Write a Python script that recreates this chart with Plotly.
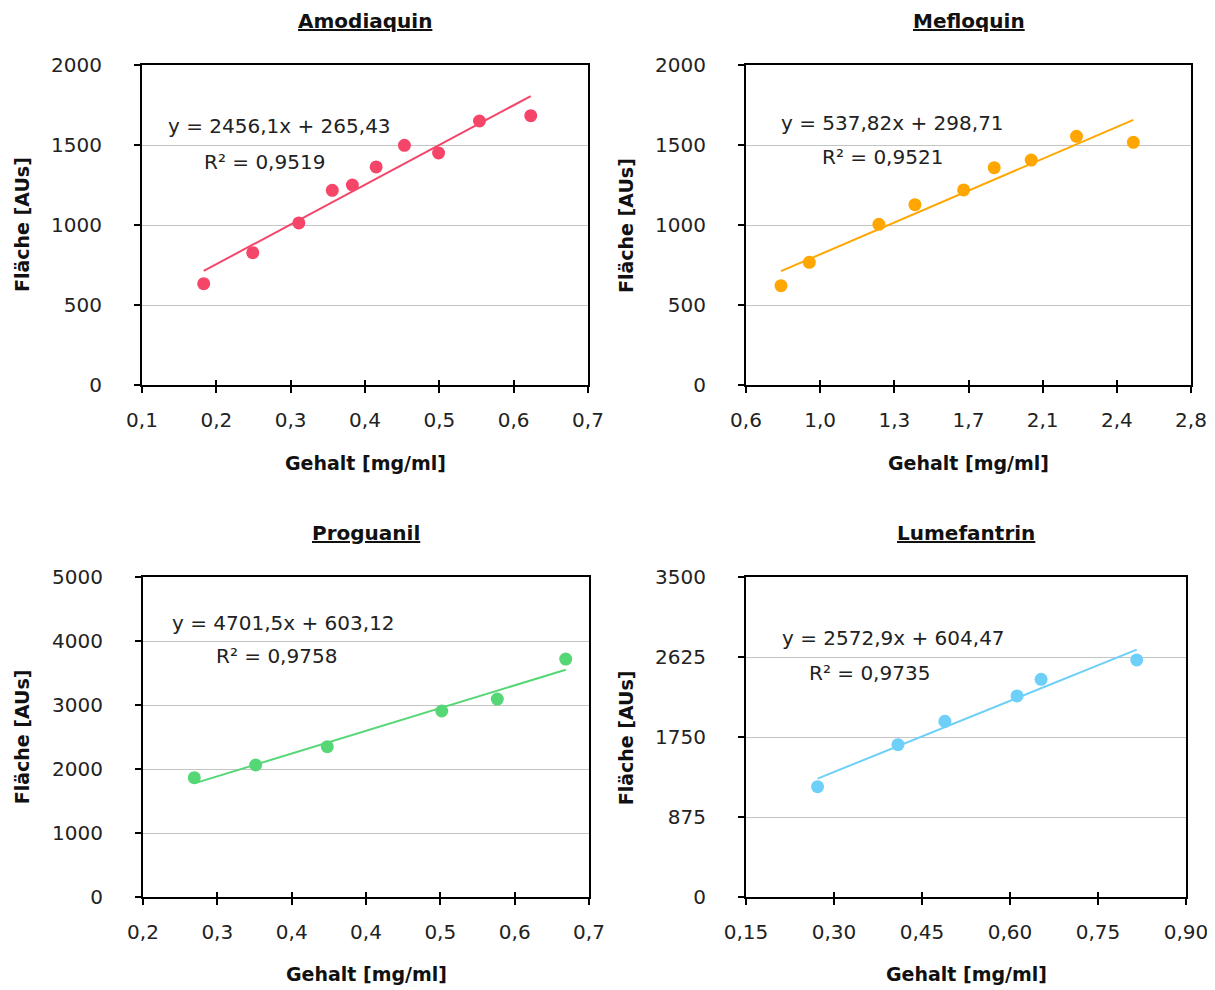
import numpy as np
import plotly.graph_objects as go

# page body has an 8px margin; figure fills the rest of the 1215x990 window
OFF = 8
W, H = 1215 - OFF, 990 - OFF

# ---------------- data ----------------
amo_x = [0.183, 0.249, 0.311, 0.356, 0.383, 0.415, 0.453, 0.499, 0.554, 0.623]
amo_y = [633, 827, 1013, 1217, 1250, 1363, 1498, 1450, 1650, 1683]
amo_eq = ["y = 2456,1x + 265,43", "R² = 0,9519"]

mef_x = [0.773, 0.913, 1.257, 1.435, 1.676, 1.827, 2.010, 2.234, 2.515]
mef_y = [621, 767, 1004, 1127, 1219, 1358, 1406, 1554, 1517]
mef_eq = ["y = 537,82x + 298,71", "R² = 0,9521"]

pro_x = [0.2575, 0.3263, 0.4066, 0.5349, 0.5972, 0.6739]
pro_y = [1869, 2067, 2353, 2911, 3098, 3723]
pro_eq = ["y = 4701,5x + 603,12", "R² = 0,9758"]

lum_x = [0.272, 0.409, 0.489, 0.612, 0.653, 0.816]
lum_y = [1210, 1669, 1925, 2202, 2384, 2596]
lum_eq = ["y = 2572,9x + 604,47", "R² = 0,9735"]

titles = ["Amodiaquin", "Mefloquin", "Proguanil", "Lumefantrin"]
x_title = "Gehalt [mg/ml]"
y_title = "Fläche [AUs]"

amo_xticks = [0.1, 0.2, 0.3, 0.4, 0.5, 0.6, 0.7]
amo_xlabels = ["0,1", "0,2", "0,3", "0,4", "0,5", "0,6", "0,7"]
mef_xticks = [0.6, 0.9667, 1.3333, 1.7, 2.0667, 2.4333, 2.8]
mef_xlabels = ["0,6", "1,0", "1,3", "1,7", "2,1", "2,4", "2,8"]
pro_xticks = [0.2, 0.2833, 0.3667, 0.45, 0.5333, 0.6167, 0.7]
pro_xlabels = ["0,2", "0,3", "0,4", "0,4", "0,5", "0,6", "0,7"]
lum_xticks = [0.15, 0.30, 0.45, 0.60, 0.75, 0.90]
lum_xlabels = ["0,15", "0,30", "0,45", "0,60", "0,75", "0,90"]

top_yticks = [0, 500, 1000, 1500, 2000]
top_ylabels = ["0", "500", "1000", "1500", "2000"]
pro_yticks = [0, 1000, 2000, 3000, 4000, 5000]
pro_ylabels = ["0", "1000", "2000", "3000", "4000", "5000"]
lum_yticks = [0, 875, 1750, 2625, 3500]
lum_ylabels = ["0", "875", "1750", "2625", "3500"]

colors = ["#F5466A", "#FFA600", "#55D776", "#6ECFF8"]

# ---------------- layout geometry (window pixels) ----------------
panels = [
    dict(x=amo_x, y=amo_y, eq=amo_eq, xr=[0.1, 0.7], yr=[0, 2000],
         xt=amo_xticks, xl=amo_xlabels, yt=top_yticks, yl=top_ylabels,
         px=(142, 588), py=(65, 385),
         eqpos=[(0.1323, 1619), (0.1809, 1394)]),
    dict(x=mef_x, y=mef_y, eq=mef_eq, xr=[0.6, 2.8], yr=[0, 2000],
         xt=mef_xticks, xl=mef_xlabels, yt=top_yticks, yl=top_ylabels,
         px=(746, 1191), py=(65, 385),
         eqpos=[(0.763, 1636), (0.966, 1427)]),
    dict(x=pro_x, y=pro_y, eq=pro_eq, xr=[0.2, 0.7], yr=[0, 5000],
         xt=pro_xticks, xl=pro_xlabels, yt=pro_yticks, yl=pro_ylabels,
         px=(143, 589), py=(577.3, 897.3),
         eqpos=[(0.230, 4281), (0.280, 3770)]),
    dict(x=lum_x, y=lum_y, eq=lum_eq, xr=[0.15, 0.9], yr=[0, 3500],
         xt=lum_xticks, xl=lum_xlabels, yt=lum_yticks, yl=lum_ylabels,
         px=(746, 1186), py=(577.3, 897.3),
         eqpos=[(0.208, 2839), (0.254, 2450)]),
]


def fx(px):
    return (px - OFF) / W


def fy(py):
    return 1 - (py - OFF) / H


FONT = "DejaVu Sans, Liberation Sans, Arial, sans-serif"
TXT = "#222222"
fig = go.Figure()
layout = dict(
    width=W, height=H, margin=dict(l=0, r=0, t=0, b=0, autoexpand=False),
    plot_bgcolor="white", paper_bgcolor="white", showlegend=False,
    font=dict(family=FONT, size=20, color=TXT),
)
annotations = []

for i, p in enumerate(panels):
    n = i + 1
    xa = "x" if n == 1 else f"x{n}"
    ya = "y" if n == 1 else f"y{n}"
    xdom = [fx(p["px"][0]), fx(p["px"][1])]
    ydom = [fy(p["py"][1]), fy(p["py"][0])]
    c = colors[i]
    # linear least-squares trendline over the data range
    m, b = np.polyfit(p["x"], p["y"], 1)
    lx = np.array([min(p["x"]), max(p["x"])])
    ly = m * lx + b
    fig.add_trace(go.Scatter(x=lx, y=ly, mode="lines", line=dict(color=c, width=2),
                             xaxis=xa, yaxis=ya, hoverinfo="skip"))
    fig.add_trace(go.Scatter(x=p["x"], y=p["y"], mode="markers",
                             marker=dict(color=c, size=13, line=dict(width=0)),
                             xaxis=xa, yaxis=ya))
    xkey = "xaxis" if n == 1 else f"xaxis{n}"
    ykey = "yaxis" if n == 1 else f"yaxis{n}"
    layout[xkey] = dict(domain=xdom, anchor=ya, range=p["xr"], tickvals=p["xt"], ticktext=p["xl"],
                        showgrid=False, zeroline=False, showline=True, linecolor="black", linewidth=2,
                        mirror=True, ticks="outside", ticklen=6, tickwidth=1.5, tickcolor="black",
                        ticklabelstandoff=10, tickfont=dict(size=20, color=TXT),
                        fixedrange=True, automargin=False)
    layout[ykey] = dict(domain=ydom, anchor=xa, range=p["yr"], tickvals=p["yt"], ticktext=p["yl"],
                        showgrid=True, gridcolor="#C4C4C4", gridwidth=1, zeroline=False,
                        showline=True, linecolor="black", linewidth=2, mirror=True,
                        ticks="outside", ticklen=6, tickwidth=1.5, tickcolor="black",
                        ticklabelstandoff=28, tickfont=dict(size=20, color=TXT),
                        fixedrange=True, automargin=False)
    # overlay axis for the inner half of the crossing x ticks
    on = n + 4
    layout[f"xaxis{on}"] = dict(overlaying=xa, anchor=ya, range=p["xr"], tickvals=p["xt"],
                                showticklabels=False, showgrid=False, zeroline=False, showline=False,
                                ticks="inside", ticklen=5, tickwidth=1.5, tickcolor="black",
                                fixedrange=True, automargin=False)
    fig.add_trace(go.Scatter(x=[None], y=[None], xaxis=f"x{on}", yaxis=ya, hoverinfo="skip"))

    cx = (xdom[0] + xdom[1]) / 2
    # subplot title
    ty = 21 if n <= 2 else 533
    annotations.append(dict(text=f"<b><u>{titles[i]}</u></b>", x=cx, y=fy(ty), xref="paper", yref="paper",
                            showarrow=False, xanchor="center", yanchor="middle",
                            font=dict(size=20, color="#111111")))
    # x axis title
    xy = 463 if n <= 2 else 974
    annotations.append(dict(text=f"<b>{x_title}</b>", x=cx, y=fy(xy), xref="paper", yref="paper",
                            showarrow=False, xanchor="center", yanchor="middle",
                            font=dict(size=19, color="#111111")))
    # y axis title
    yx = 22 if n in (1, 3) else 626
    cy = fy((p["py"][0] + p["py"][1]) / 2)
    annotations.append(dict(text=f"<b>{y_title}</b>", x=fx(yx), y=cy, xref="paper", yref="paper",
                            showarrow=False, xanchor="center", yanchor="middle", textangle=-90,
                            font=dict(size=19, color="#111111")))
    # regression equation texts
    for txt, (ex, ey) in zip(p["eq"], p["eqpos"]):
        annotations.append(dict(text=txt, x=ex, y=ey, xref=xa, yref=ya, showarrow=False,
                                xanchor="left", yanchor="middle",
                                font=dict(size=20, color=TXT)))

layout["annotations"] = annotations
fig.update_layout(**layout)
fig.write_html("out.html")
